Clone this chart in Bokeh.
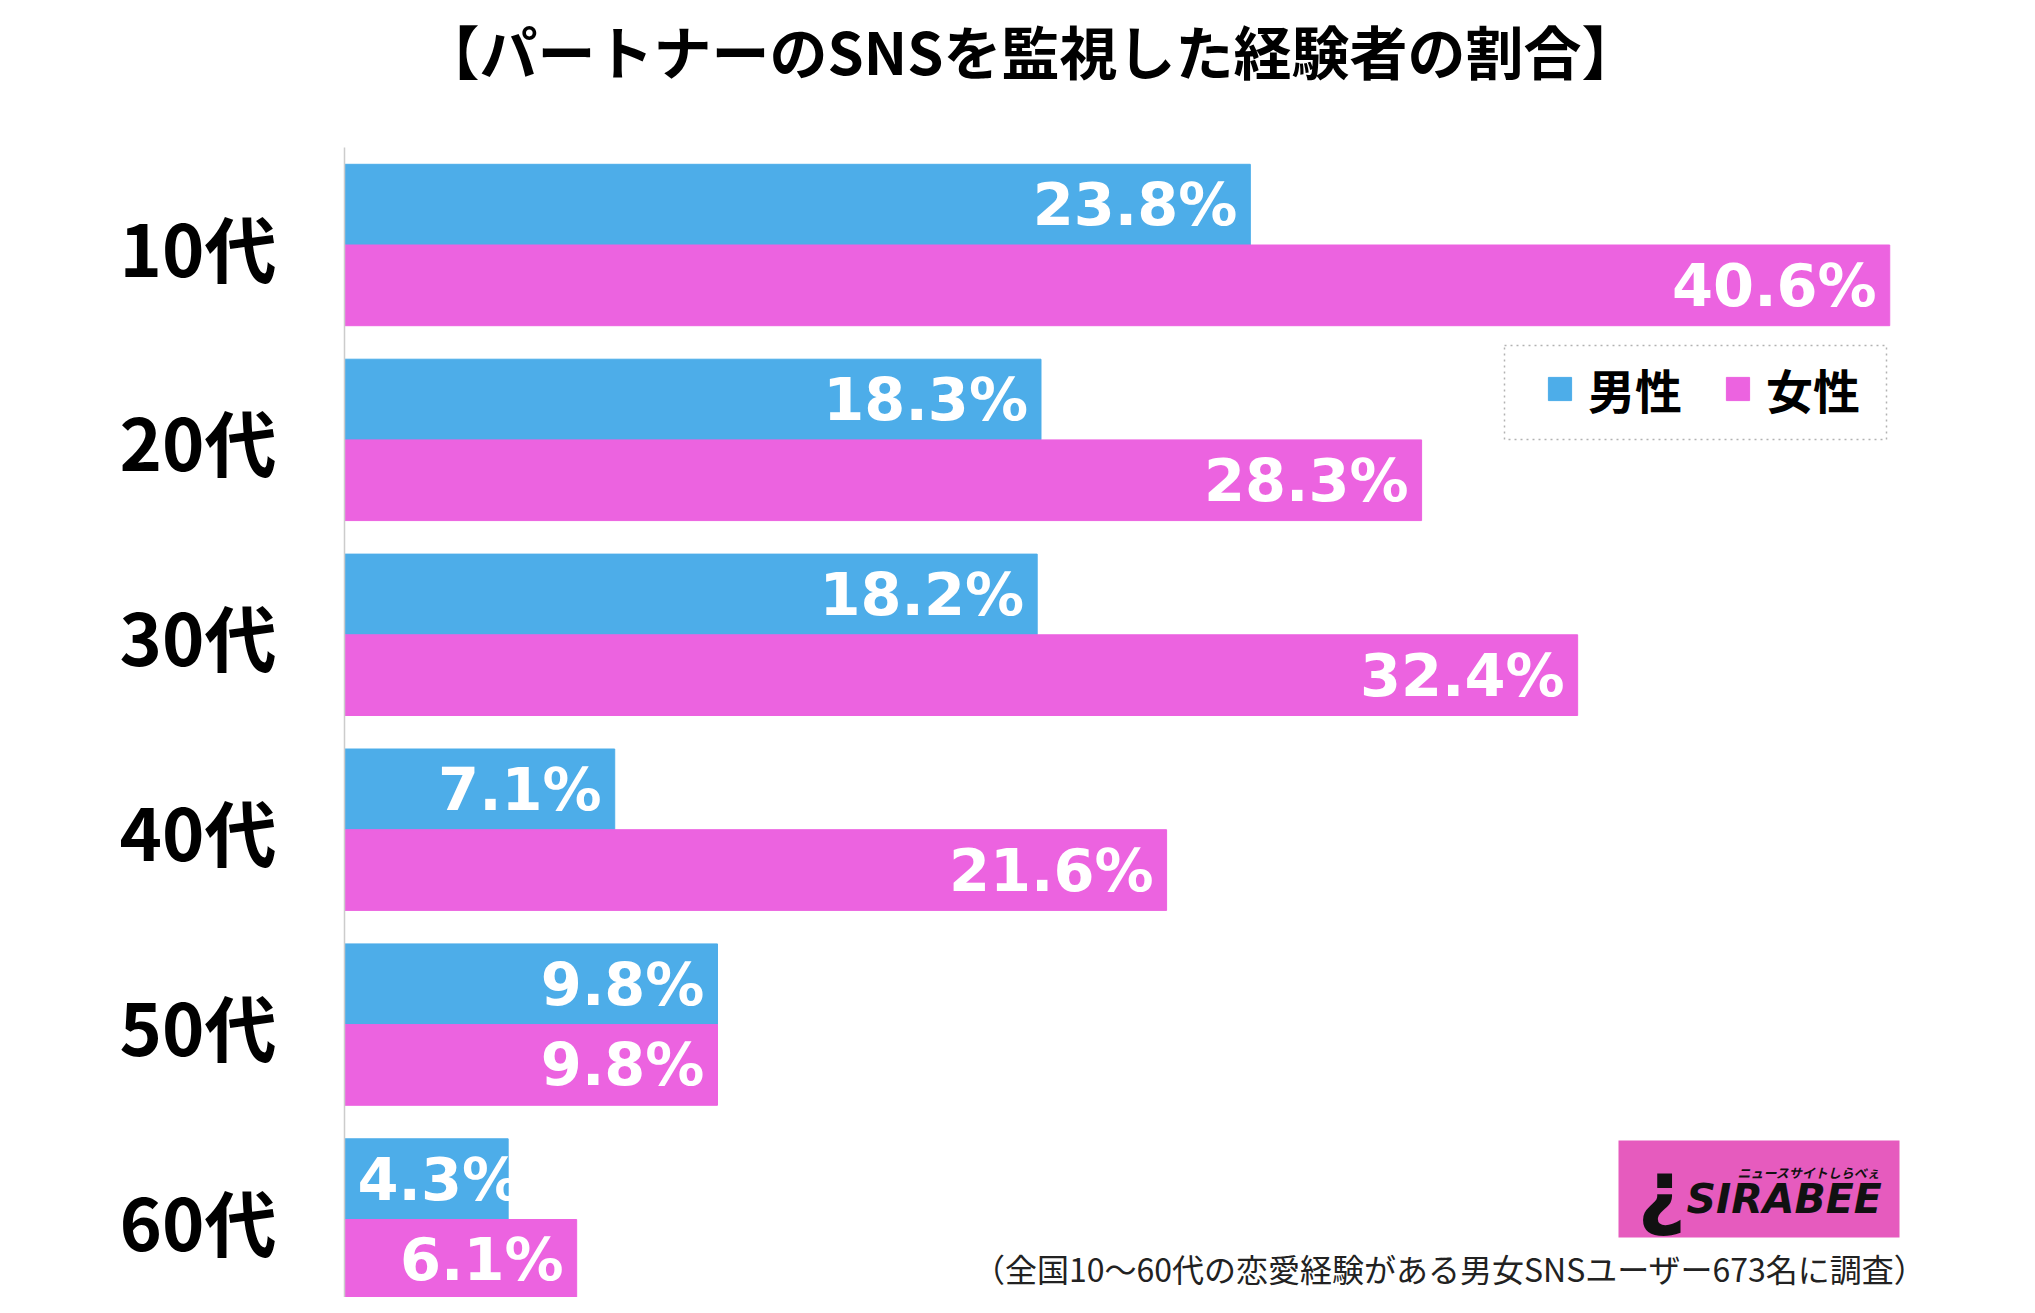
import numpy as np
from bokeh.plotting import figure
from bokeh.models import (Range1d, FixedTicker, Label, Legend, LegendItem,
                          BoxAnnotation, ColumnDataSource)
from bokeh.transform import dodge
from bokeh.core.properties import value
from bokeh.embed import file_html
from bokeh.resources import INLINE

# ---------------- data ----------------
ages = ["10代", "20代", "30代", "40代", "50代", "60代"]
male = [23.8, 18.3, 18.2, 7.1, 9.8, 4.3]
female = [40.6, 28.3, 32.4, 21.6, 9.8, 6.1]
series_names = ["男性", "女性"]
title_text = "【パートナーのSNSを監視した経験者の割合】"
note_text = "（全国10〜60代の恋愛経験がある男女SNSユーザー673名に調査）"
logo_text = "SIRABEE"
logo_sub = "ニュースサイトしらべぇ"

# ---------------- style ----------------
BLUE = "#4DADE9"
PINK = "#EC63E0"
LOGO_PINK = "#E65BBE"
JP = "Noto Sans CJK JP"
NUM = "DejaVu Sans"

W, H = 2019, 1297
LEFT = 344                 # frame left (figure px)
PXP = 38.06                # px per percent
PXG = 194.9                # px per age group
G0 = 244.5                 # figure-px y of first group centre

x_end = (W - LEFT) / PXP
y_top = -G0 / PXG
y_bot = (H - G0) / PXG

def dx(ref_x):   # picture px -> data x
    return (ref_x - LEFT) / PXP

def dy(ref_y):   # picture px -> data y
    return (ref_y - G0) / PXG

p = figure(width=W, height=H, x_range=Range1d(0, x_end),
           y_range=Range1d(y_bot, y_top), output_backend="svg",
           toolbar_location=None, x_axis_location=None,
           y_axis_location="left", min_border_left=LEFT, min_border_right=0,
           min_border_top=0, min_border_bottom=0)
p.outline_line_color = None
p.grid.visible = False
p.background_fill_color = "white"

idx = np.arange(len(ages))
OFF, BH = 0.207, 0.414
src = ColumnDataSource(dict(y=idx, male=male, female=female))

rm = p.hbar(y=dodge("y", -OFF), left=0, right="male", height=BH,
            color=BLUE, source=src)
rf = p.hbar(y=dodge("y", OFF), left=0, right="female", height=BH,
            color=PINK, source=src)

# value labels
for vals, off in ((male, -OFF), (female, OFF)):
    rx, ry, rt, lx, ly, lt = [], [], [], [], [], []
    for i, v in enumerate(vals):
        t = f"{v:.1f}%"
        if v >= 5:
            rx.append(v); ry.append(i + off); rt.append(t)
        else:
            lx.append(0); ly.append(i + off); lt.append(t)
    common = dict(text_color="white", text_font=value(NUM),
                  text_font_style="bold", text_font_size="59px",
                  text_baseline="middle")
    p.text(x=rx, y=ry, text=rt, text_align="right", x_offset=-13, **common)
    if lx:
        p.text(x=lx, y=ly, text=lt, text_align="left", x_offset=13, **common)

# y axis
ax = p.yaxis[0]
ax.ticker = FixedTicker(ticks=[int(i) for i in idx])
ax.major_label_overrides = {int(i): a for i, a in zip(idx, ages)}
ax.major_label_text_font = JP
ax.major_label_text_font_size = "72px"
ax.major_label_text_font_style = "bold"
ax.major_label_text_color = "#000000"
ax.major_tick_line_color = None
ax.minor_tick_line_color = None
ax.major_label_standoff = 62
ax.axis_line_color = "#cccccc"
ax.axis_line_width = 1.5
ax.bounds = (dy(147), y_bot)

# title
p.add_layout(Label(x=dx(1030), y=dy(49), text=title_text, text_align="center",
                   text_baseline="middle", text_font=JP, text_font_style="bold",
                   text_font_size="58px", text_color="#000000"))

# legend box + legend
p.add_layout(BoxAnnotation(left=dx(1504), right=dx(1886), top=dy(345),
                           bottom=dy(439), fill_color="white", fill_alpha=1,
                           line_color="#000000", line_dash="dotted",
                           line_width=1.5))
legend = Legend(items=[LegendItem(label=series_names[0], renderers=[rm]),
                       LegendItem(label=series_names[1], renderers=[rf])],
                orientation="horizontal", location=(1545 - LEFT, H - 393 - 30),
                glyph_width=29, glyph_height=29, label_standoff=14, spacing=41,
                padding=0, margin=0, label_height=60,
                label_text_font=JP, label_text_font_style="bold",
                label_text_font_size="47px", label_text_baseline="middle",
                label_text_color="#000000",
                border_line_color=None, background_fill_alpha=0)
p.add_layout(legend)

# logo
p.add_layout(BoxAnnotation(left=dx(1618), right=dx(1899), top=dy(1140),
                           bottom=dy(1237), fill_color=LOGO_PINK, fill_alpha=1,
                           line_color=None))
p.add_layout(Label(x=dx(1661), y=dy(1190), text="¿", text_align="center",
                   text_baseline="middle", text_font=NUM, text_font_style="bold",
                   text_font_size="84px", text_color="#111111"))
p.add_layout(Label(x=dx(1686), y=dy(1198), text=logo_text, text_align="left",
                   text_baseline="middle", text_font=NUM,
                   text_font_style="bold italic", text_font_size="41px",
                   text_color="#111111"))
p.add_layout(Label(x=dx(1737), y=dy(1172), text=logo_sub, text_align="left",
                   text_baseline="middle", text_font=JP,
                   text_font_style="bold italic", text_font_size="13px",
                   text_color="#111111"))

# footnote
p.add_layout(Label(x=dx(1926), y=dy(1267), text=note_text, text_align="right",
                   text_baseline="middle", text_font=JP, text_font_size="32px",
                   text_color="#222222"))

open("out.html", "w").write(file_html(p, INLINE))
